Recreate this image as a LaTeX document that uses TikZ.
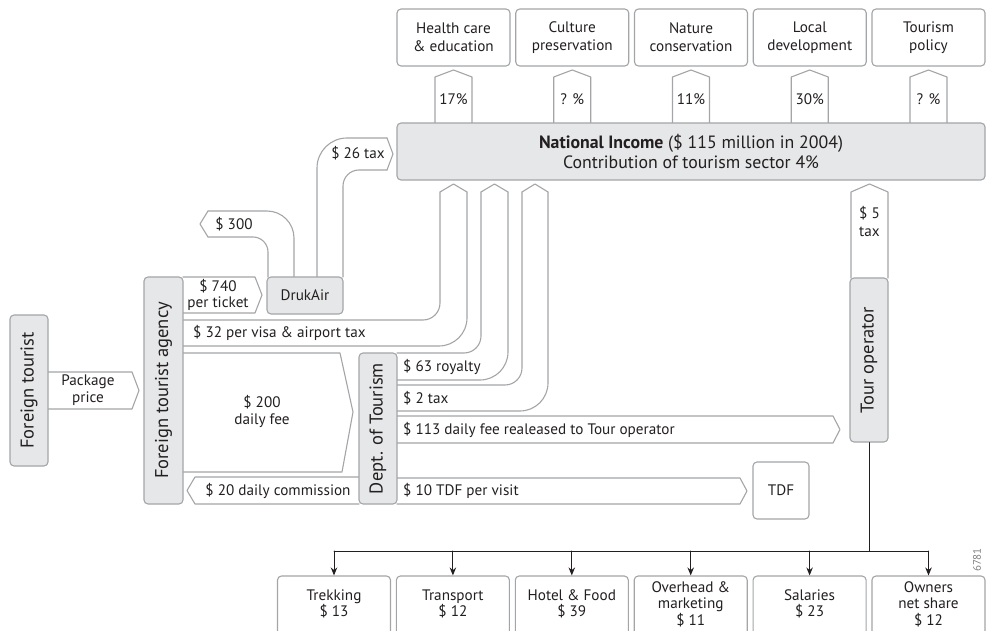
\documentclass[tikz,border=0pt]{standalone}
\usepackage{fontspec}
\setmainfont{PT Sans}
\usetikzlibrary{arrows.meta}
\definecolor{lg}{RGB}{163,165,168}
\definecolor{bg}{RGB}{230,231,232}
\definecolor{tx}{RGB}{35,31,32}
\newcommand\flab{\fontsize{15.2}{17}\selectfont}
\newcommand\frot{\fontsize{18.5}{20}\selectfont}
\newcommand\fni{\fontsize{17.8}{20}\selectfont}
\newcommand\fsml{\fontsize{11}{13}\selectfont}
\begin{document}
\begin{tikzpicture}[x=1pt,y=-1pt,
  line cap=round, line join=round,
  gbox/.style={draw=lg, fill=bg, line width=1.1pt, rounded corners=4pt, inner sep=0pt},
  wbox/.style={gbox, fill=white},
  flow/.style={draw=lg, line width=1.1pt},
  lbl/.style={font=\flab, text=tx, inner sep=0pt, align=center},
  rlbl/.style={font=\frot, text=tx, inner sep=0pt, rotate=90},
  treeline/.style={draw=tx, line width=1pt},
  tree/.style={treeline, -{Stealth[length=8pt,width=6.5pt]}}
]
\useasboundingbox (0,0) rectangle (986,631);

% ---------- block arrows ----------
% percent arrows up to top boxes
\foreach \cx/\t [count=\i] in {453.5/17\%, 572.25/? \%, 691/11\%, 809.75/30\%, 928.5/? \%}{
  \draw[flow] (\cx-18.5,123) -- (\cx-18.5,77) -- (\cx,70) -- (\cx+18.5,77) -- (\cx+18.5,123);
  \node[lbl] (p\i) at (\cx,99) {\t};
}
% $ 26 tax
\draw[flow, rounded corners=30pt] (317,277) -- (317,138) -- (387,138);
\draw[flow] (387,138) -- (393,154) -- (387,170);
\draw[flow, rounded corners=16pt] (387,170) -- (343,170) -- (343,277);
\node[lbl] (t26) at (358,153) {\$ 26 tax};
% $ 300
\draw[flow, rounded corners=27pt] (294,277) -- (294,211) -- (208,211);
\draw[flow] (208,211) -- (200,224) -- (208,237);
\draw[flow, rounded corners=15pt] (208,237) -- (268,237) -- (268,277);
\node[lbl] (t300) at (234,224) {\$ 300};
% $ 740
\draw[flow] (183,277) -- (255,277) -- (262,295) -- (255,313) -- (183,313);
\node[lbl, font=\fontsize{15.2}{16}\selectfont] (t740) at (218,295) {\$ 740\\per ticket};
% package price
\draw[flow] (48,372) -- (132,372) -- (139,390.5) -- (132,409) -- (48,409);
\node[lbl, font=\fontsize{15.2}{16.5}\selectfont] (tpk) at (88,390) {Package\\price};
% $ 32
\draw[flow, rounded corners=17pt] (183,320) -- (440,320) -- (440,192);
\draw[flow] (440,192) -- (453.5,184) -- (467,192);
\draw[flow, rounded corners=28pt] (467,192) -- (467,346) -- (183,346);
\node[lbl, anchor=west] (t32) at (193,333) {\$ 32 per visa \& airport tax};
% $ 200
\draw[flow] (183,353) -- (340,353) -- (353,412) -- (342,472) -- (183,472);
\node[lbl] (t200) at (262,411) {\$ 200\\daily fee};
% $ 63 royalty
\draw[flow, rounded corners=17pt] (397,353) -- (481,353) -- (481,192);
\draw[flow] (481,192) -- (494.5,184) -- (508,192);
\draw[flow, rounded corners=28pt] (508,192) -- (508,380) -- (397,380);
\node[lbl, anchor=west] (t63) at (403,367) {\$ 63 royalty};
% $ 2 tax
\draw[flow, rounded corners=17pt] (397,385) -- (522,385) -- (522,192);
\draw[flow] (522,192) -- (535,184) -- (548,192);
\draw[flow, rounded corners=28pt] (548,192) -- (548,411) -- (397,411);
\node[lbl, anchor=west] (t2) at (403,398) {\$ 2 tax};
% $ 113
\draw[flow] (397,416) -- (833,416) -- (840,429.5) -- (833,443) -- (397,443);
\node[lbl, anchor=west] (t113) at (403,429.5) {\$ 113 daily fee realeased to Tour operator};
% $ 5 tax
\draw[flow] (851,278) -- (851,192) -- (869.5,184) -- (888,192) -- (888,278);
\node[lbl, font=\fontsize{15.2}{18}\selectfont] (t5) at (869.5,222) {\$ 5\\tax};
% $ 20 daily commission
\draw[flow] (359,477) -- (195,477) -- (187,490.5) -- (195,504) -- (359,504);
\node[lbl] (t20) at (278,490.5) {\$ 20 daily commission};
% $ 10 TDF
\draw[flow] (397,478) -- (740,478) -- (747,491) -- (740,504) -- (397,504);
\node[lbl, anchor=west] (t10) at (403,491) {\$ 10 TDF per visit};

% ---------- boxes ----------
\node[gbox, minimum width=588pt, minimum height=57pt, align=center, font=\fni, text=tx] (ni) at (691,151.5)
  {\textbf{National Income} (\$ 115 million in 2004)\\Contribution of tourism sector 4\%};
\foreach \t [count=\i] in {Health care\\\& education, Culture\\preservation, Nature\\conservation, Local\\development, Tourism\\policy}{
  \node[wbox, minimum width=113pt, minimum height=57pt] (tb\i) at ({453.5+118.75*(\i-1)},37.5) {};
  \node[lbl, font=\fontsize{15.2}{18}\selectfont] (tt\i) at (tb\i.center) {\t};
}
\node[gbox, minimum width=76pt, minimum height=37pt, font=\flab, text=tx] (druk) at (305,295.5) {DrukAir};
\node[gbox, minimum width=38pt, minimum height=151pt] (tourist) at (29,390.5) {};
\node[rlbl] (ltourist) at (tourist.center) {Foreign tourist};
\node[gbox, minimum width=39pt, minimum height=227pt] (agency) at (163.5,390.5) {};
\node[rlbl] (lagency) at (agency.center) {Foreign tourist agency};
\node[gbox, minimum width=38pt, minimum height=151pt] (dept) at (378,428.5) {};
\node[rlbl] (ldept) at (dept.center) {Dept. of Tourism};
\node[gbox, minimum width=38pt, minimum height=164pt] (tour) at (869,360) {};
\node[rlbl] (ltour) at (tour.center) {Tour operator};
\node[wbox, minimum width=56pt, minimum height=57pt, font=\flab, text=tx] (tdf) at (781,490.5) {TDF};

% ---------- bottom row ----------
\foreach \t [count=\i] in {Trekking\\\$ 13, Transport\\\$ 12, Hotel \& Food\\\$ 39, Overhead \&\\marketing\\\$ 11, Salaries\\\$ 23, Owners\\net share\\\$ 12}{
  \node[wbox, minimum width=113pt, minimum height=64pt] (b\i) at ({334+118.9*(\i-1)},608) {};
  \node[lbl, font=\fontsize{15.2}{16.5}\selectfont] (bt\i) at ({334+118.9*(\i-1)},604) {\t};
}
\coordinate (hj) at (869,551);
\draw[treeline] (tour.south) -- (tour.south |- hj);
\draw[treeline] (b1.north |- hj) -- (b6.north |- hj);
\foreach \i in {1,...,6}{
  \draw[tree] (b\i.north |- hj) -- (b\i.north);
}
\node[font=\fsml, text=gray, rotate=90, inner sep=0pt] (num) at (977,560) {6781};
\end{tikzpicture}
\end{document}
